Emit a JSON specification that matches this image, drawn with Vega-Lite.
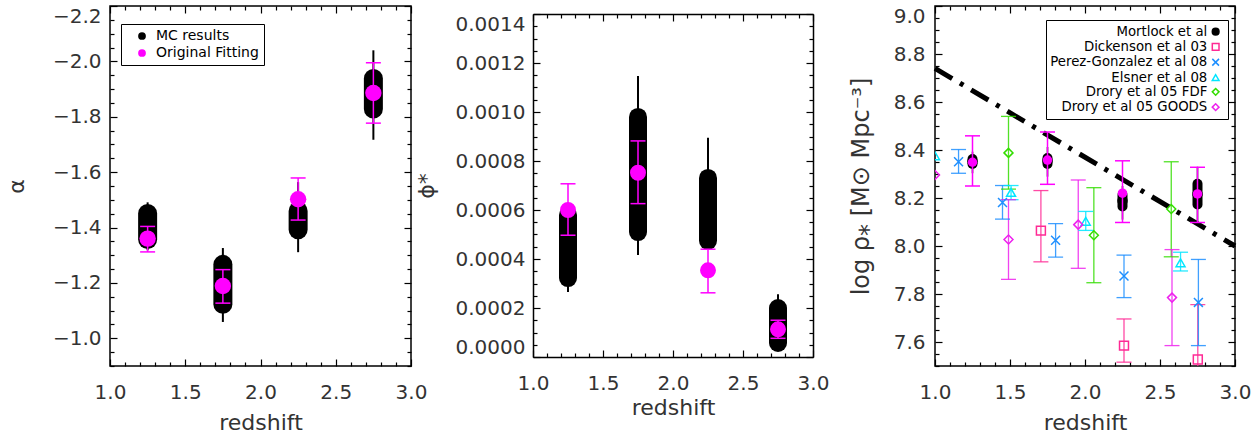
{
  "$schema": "https://vega.github.io/schema/vega-lite/v6.json",
  "background": "white",
  "padding": {"left": 4, "top": 4, "right": 0, "bottom": 0},
  "bounds": "flush",
  "spacing": 122,
  "resolve": {
    "scale": {"color": "independent"},
    "legend": {"color": "independent"}
  },
  "config": {
    "view": {"stroke": "black", "strokeWidth": 1.5},
    "axis": {"grid": false, "domain": false, "ticks": true, "tickColor": "black", "tickWidth": 1.2, "domainColor": "black", "domainWidth": 1.5, "labelFont": "DejaVu Sans", "labelFontSize": 20, "labelColor": "#333", "titleFont": "DejaVu Sans", "titleFontSize": 22, "titleFontWeight": "normal", "titleColor": "#333", "labelOverlap": false, "labelBound": false},
    "legend": {"labelFont": "DejaVu Sans", "labelColor": "black"}
  },
  "datasets": {
    "alpha": [
      {"z": 1.25, "mc": -1.404, "mc_lo": -1.451, "mc_hi": -1.357, "t_lo": -1.491, "t_hi": -1.318, "fit": -1.360, "f_lo": -1.404, "f_hi": -1.312},
      {"z": 1.75, "mc": -1.195, "mc_lo": -1.267, "mc_hi": -1.123, "t_lo": -1.326, "t_hi": -1.059, "fit": -1.189, "f_lo": -1.248, "f_hi": -1.127},
      {"z": 2.25, "mc": -1.426, "mc_lo": -1.460, "mc_hi": -1.392, "t_lo": -1.564, "t_hi": -1.311, "fit": -1.502, "f_lo": -1.579, "f_hi": -1.427},
      {"z": 2.75, "mc": -1.883, "mc_lo": -1.938, "mc_hi": -1.828, "t_lo": -2.040, "t_hi": -1.717, "fit": -1.886, "f_lo": -1.995, "f_hi": -1.777}
    ],
    "phi": [
      {"z": 1.25, "mc": 0.000451, "mc_lo": 0.000322, "mc_hi": 0.000580, "t_lo": 0.000265, "t_hi": 0.00062, "fit": 0.000600, "f_lo": 0.000497, "f_hi": 0.000707},
      {"z": 1.75, "mc": 0.000745, "mc_lo": 0.000510, "mc_hi": 0.000980, "t_lo": 0.000416, "t_hi": 0.001147, "fit": 0.000752, "f_lo": 0.000626, "f_hi": 0.000882},
      {"z": 2.25, "mc": 0.000602, "mc_lo": 0.000474, "mc_hi": 0.000731, "t_lo": 0.00046, "t_hi": 0.000895, "fit": 0.000354, "f_lo": 0.000262, "f_hi": 0.000440},
      {"z": 2.75, "mc": 0.000128, "mc_lo": 0.0000571, "mc_hi": 0.000200, "t_lo": 0.00005, "t_hi": 0.000256, "fit": 0.000113, "f_lo": 0.0000763, "f_hi": 0.000150}
    ],
    "line": [{"z": 1.0, "rho": 8.74}, {"z": 3.0, "rho": 8.0}],
    "mort": [
      {"z": 1.25, "pc": 8.352, "p_lo": 8.342, "p_hi": 8.362, "tlo": 8.303, "thi": 8.393, "f": 8.349, "flo": 8.250, "fhi": 8.459},
      {"z": 1.75, "pc": 8.355, "p_lo": 8.342, "p_hi": 8.367, "tlo": 8.289, "thi": 8.413, "f": 8.358, "flo": 8.257, "fhi": 8.475},
      {"z": 2.25, "pc": 8.189, "p_lo": 8.165, "p_hi": 8.213, "tlo": 8.110, "thi": 8.25, "f": 8.220, "flo": 8.098, "fhi": 8.355},
      {"z": 2.75, "pc": 8.216, "p_lo": 8.173, "p_hi": 8.259, "tlo": 8.10, "thi": 8.33, "f": 8.217, "flo": 8.098, "fhi": 8.328}
    ],
    "lit": [
      {"survey": "Mortlock et al", "z": 1.25, "v": 8.352, "lo": null, "hi": null},
      {"survey": "Mortlock et al", "z": 1.75, "v": 8.355, "lo": null, "hi": null},
      {"survey": "Mortlock et al", "z": 2.25, "v": 8.189, "lo": null, "hi": null},
      {"survey": "Mortlock et al", "z": 2.75, "v": 8.216, "lo": null, "hi": null},
      {"survey": "Dickenson et al 03", "z": 1.706, "v": 8.064, "lo": 7.934, "hi": 8.231},
      {"survey": "Dickenson et al 03", "z": 2.26, "v": 7.585, "lo": 7.516, "hi": 7.696},
      {"survey": "Dickenson et al 03", "z": 2.752, "v": 7.527, "lo": 7.3, "hi": 7.756},
      {"survey": "Perez-Gonzalez et al 08", "z": 1.157, "v": 8.351, "lo": 8.303, "hi": 8.402},
      {"survey": "Perez-Gonzalez et al 08", "z": 1.45, "v": 8.181, "lo": 8.112, "hi": 8.252},
      {"survey": "Perez-Gonzalez et al 08", "z": 1.804, "v": 8.024, "lo": 7.954, "hi": 8.093},
      {"survey": "Perez-Gonzalez et al 08", "z": 2.26, "v": 7.875, "lo": 7.785, "hi": 7.962},
      {"survey": "Perez-Gonzalez et al 08", "z": 2.756, "v": 7.765, "lo": 7.585, "hi": 7.944},
      {"survey": "Elsner et al 08", "z": 1.0, "v": 8.376, "lo": null, "hi": null},
      {"survey": "Elsner et al 08", "z": 1.507, "v": 8.223, "lo": 8.193, "hi": 8.252},
      {"survey": "Elsner et al 08", "z": 2.005, "v": 8.103, "lo": 8.065, "hi": 8.144},
      {"survey": "Elsner et al 08", "z": 2.637, "v": 7.930, "lo": 7.896, "hi": 7.974},
      {"survey": "Drory et al 05 FDF", "z": 1.49, "v": 8.388, "lo": 8.237, "hi": 8.540},
      {"survey": "Drory et al 05 FDF", "z": 2.059, "v": 8.045, "lo": 7.847, "hi": 8.243},
      {"survey": "Drory et al 05 FDF", "z": 2.575, "v": 8.154, "lo": 7.955, "hi": 8.351},
      {"survey": "Drory et al 05 GOODS", "z": 1.0, "v": 8.296, "lo": null, "hi": null},
      {"survey": "Drory et al 05 GOODS", "z": 1.49, "v": 8.027, "lo": 7.861, "hi": 8.193},
      {"survey": "Drory et al 05 GOODS", "z": 1.955, "v": 8.089, "lo": 7.907, "hi": 8.275},
      {"survey": "Drory et al 05 GOODS", "z": 2.58, "v": 7.785, "lo": 7.585, "hi": 7.985}
    ]
  },
  "hconcat": [
    {
      "width": 301, "height": 360,
      "data": {"name": "alpha"},
      "layer": [
        {"mark": {"type": "rule", "color": "black", "strokeWidth": 2},
         "encoding": {
           "x": {"field": "z", "type": "quantitative", "scale": {"domain": [1, 3], "nice": false, "zero": false},
                 "axis": {"orient": "bottom", "title": "redshift", "values": [1,1.1,1.2,1.3,1.4,1.5,1.6,1.7,1.8,1.9,2,2.1,2.2,2.3,2.4,2.5,2.6,2.7,2.8,2.9,3],
                          "tickSize": {"condition": {"test": "abs(datum.value*2-round(datum.value*2))<0.001", "value": -7}, "value": -4},
                          "labelExpr": "abs(datum.value*2-round(datum.value*2))<0.001 ? format(datum.value,'.1f') : ''",
                          "labelFlush": false, "labelPadding": 23, "titlePadding": 7}},
           "y": {"field": "t_lo", "type": "quantitative", "scale": {"domain": [-2.2, -0.9], "reverse": true, "nice": false, "zero": false},
                 "axis": {"orient": "left", "title": "α", "values": [-2.2,-2.15,-2.1,-2.05,-2,-1.95,-1.9,-1.85,-1.8,-1.75,-1.7,-1.65,-1.6,-1.55,-1.5,-1.45,-1.4,-1.35,-1.3,-1.25,-1.2,-1.15,-1.1,-1.05,-1,-0.95,-0.9],
                          "tickSize": {"condition": {"test": "abs(datum.value*5-round(datum.value*5))<0.001", "value": -7}, "value": -4},
                          "labelExpr": "abs(datum.value*5-round(datum.value*5))<0.001 ? format(datum.value,'.1f') : ''",
                          "labelFlush": true, "labelPadding": 16, "titlePadding": 24}},
           "y2": {"field": "t_hi"}}},
        {"mark": {"type": "rule", "color": "black", "strokeWidth": 19, "strokeCap": "round"},
         "encoding": {
           "x": {"field": "z", "type": "quantitative", "scale": {"domain": [1, 3], "nice": false, "zero": false},
                 "axis": {"orient": "top", "title": null, "labels": false, "values": [1,1.1,1.2,1.3,1.4,1.5,1.6,1.7,1.8,1.9,2,2.1,2.2,2.3,2.4,2.5,2.6,2.7,2.8,2.9,3],
                          "tickSize": {"condition": {"test": "abs(datum.value*2-round(datum.value*2))<0.001", "value": -7}, "value": -4}}},
           "y": {"field": "mc_lo", "type": "quantitative", "scale": {"domain": [-2.2, -0.9], "reverse": true, "nice": false, "zero": false},
                 "axis": {"orient": "right", "title": null, "labels": false, "values": [-2.2,-2.15,-2.1,-2.05,-2,-1.95,-1.9,-1.85,-1.8,-1.75,-1.7,-1.65,-1.6,-1.55,-1.5,-1.45,-1.4,-1.35,-1.3,-1.25,-1.2,-1.15,-1.1,-1.05,-1,-0.95,-0.9],
                          "tickSize": {"condition": {"test": "abs(datum.value*5-round(datum.value*5))<0.001", "value": -7}, "value": -4}}},
           "y2": {"field": "mc_hi"}}},
        {"mark": {"type": "point", "filled": true, "opacity": 1, "size": 250, "shape": "circle"},
         "encoding": {
           "x": {"field": "z", "type": "quantitative", "scale": {"domain": [1, 3], "nice": false, "zero": false}, "axis": null},
           "y": {"field": "mc", "type": "quantitative", "scale": {"domain": [-2.2, -0.9], "reverse": true, "nice": false, "zero": false}, "axis": null},
           "color": {"datum": "MC results", "scale": {"domain": ["MC results", "Original Fitting"], "range": ["black", "#ff00ff"]},
                     "legend": {"orient": "none", "legendX": 11, "legendY": 18, "title": null, "strokeColor": "black", "fillColor": "white", "padding": 5, "symbolOffset": 9, "labelOffset": 7, "rowPadding": 3, "labelFontSize": 14, "symbolSize": 60, "symbolType": "circle"}}}},
        {"mark": {"type": "rule", "color": "#ff00ff", "strokeWidth": 1.5},
         "encoding": {
           "x": {"field": "z", "type": "quantitative", "scale": {"domain": [1, 3], "nice": false, "zero": false}, "axis": null},
           "y": {"field": "f_lo", "type": "quantitative", "scale": {"domain": [-2.2, -0.9], "reverse": true, "nice": false, "zero": false}, "axis": null},
           "y2": {"field": "f_hi"}}},
        {"mark": {"type": "tick", "orient": "horizontal", "color": "#ff00ff", "size": 15, "thickness": 1.5, "opacity": 1},
         "encoding": {
           "x": {"field": "z", "type": "quantitative", "scale": {"domain": [1, 3], "nice": false, "zero": false}, "axis": null},
           "y": {"field": "f_lo", "type": "quantitative", "scale": {"domain": [-2.2, -0.9], "reverse": true, "nice": false, "zero": false}, "axis": null}}},
        {"mark": {"type": "tick", "orient": "horizontal", "color": "#ff00ff", "size": 15, "thickness": 1.5, "opacity": 1},
         "encoding": {
           "x": {"field": "z", "type": "quantitative", "scale": {"domain": [1, 3], "nice": false, "zero": false}, "axis": null},
           "y": {"field": "f_hi", "type": "quantitative", "scale": {"domain": [-2.2, -0.9], "reverse": true, "nice": false, "zero": false}, "axis": null}}},
        {"mark": {"type": "point", "filled": true, "opacity": 1, "size": 270, "shape": "circle"},
         "encoding": {
           "x": {"field": "z", "type": "quantitative", "scale": {"domain": [1, 3], "nice": false, "zero": false}, "axis": null},
           "y": {"field": "fit", "type": "quantitative", "scale": {"domain": [-2.2, -0.9], "reverse": true, "nice": false, "zero": false}, "axis": null},
           "color": {"datum": "Original Fitting"}}}
      ],
      "resolve": {"axis": {"x": "independent", "y": "independent"}}
    },
    {
      "width": 280, "height": 351,
      "view": {"stroke": null},
      "data": {"name": "phi"},
      "layer": [
        {"mark": {"type": "rule", "color": "black", "strokeWidth": 2},
         "encoding": {
           "x": {"field": "z", "type": "quantitative", "scale": {"domain": [1, 3], "nice": false, "zero": false},
                 "axis": {"orient": "bottom", "title": "redshift", "domain": true, "values": [1,1.1,1.2,1.3,1.4,1.5,1.6,1.7,1.8,1.9,2,2.1,2.2,2.3,2.4,2.5,2.6,2.7,2.8,2.9,3],
                          "tickSize": {"condition": {"test": "abs(datum.value*2-round(datum.value*2))<0.001", "value": -7}, "value": -4},
                          "labelExpr": "abs(datum.value*2-round(datum.value*2))<0.001 ? format(datum.value,'.1f') : ''",
                          "labelFlush": false, "labelPadding": 23, "titlePadding": 1}},
           "y": {"field": "t_lo", "type": "quantitative", "scale": {"domain": [0, 0.0014], "range": [351, 8], "nice": false, "zero": false},
                 "axis": {"orient": "left", "title": "ϕ*", "domain": true, "values": [0,0.00005,0.0001,0.00015,0.0002,0.00025,0.0003,0.00035,0.0004,0.00045,0.0005,0.00055,0.0006,0.00065,0.0007,0.00075,0.0008,0.00085,0.0009,0.00095,0.001,0.00105,0.0011,0.00115,0.0012,0.00125,0.0013,0.00135,0.0014],
                          "tickSize": {"condition": {"test": "abs(datum.value*5000-round(datum.value*5000))<0.001", "value": -7}, "value": -4},
                          "labelExpr": "abs(datum.value*5000-round(datum.value*5000))<0.001 ? format(datum.value,'.4f') : ''",
                          "labelFlush": true, "labelPadding": 15, "titlePadding": 17}},
           "y2": {"field": "t_hi"}}},
        {"mark": {"type": "rule", "color": "black", "strokeWidth": 18, "strokeCap": "round"},
         "encoding": {
           "x": {"field": "z", "type": "quantitative", "scale": {"domain": [1, 3], "nice": false, "zero": false},
                 "axis": {"orient": "top", "offset": -8, "domain": true, "title": null, "labels": false, "values": [1,1.1,1.2,1.3,1.4,1.5,1.6,1.7,1.8,1.9,2,2.1,2.2,2.3,2.4,2.5,2.6,2.7,2.8,2.9,3],
                          "tickSize": {"condition": {"test": "abs(datum.value*2-round(datum.value*2))<0.001", "value": -7}, "value": -4}}},
           "y": {"field": "mc_lo", "type": "quantitative", "scale": {"domain": [0, 0.0014], "range": [351, 8], "nice": false, "zero": false},
                 "axis": {"orient": "right", "domain": true, "title": null, "labels": false, "values": [0,0.00005,0.0001,0.00015,0.0002,0.00025,0.0003,0.00035,0.0004,0.00045,0.0005,0.00055,0.0006,0.00065,0.0007,0.00075,0.0008,0.00085,0.0009,0.00095,0.001,0.00105,0.0011,0.00115,0.0012,0.00125,0.0013,0.00135,0.0014],
                          "tickSize": {"condition": {"test": "abs(datum.value*5000-round(datum.value*5000))<0.001", "value": -7}, "value": -4}}},
           "y2": {"field": "mc_hi"}}},
        {"mark": {"type": "rule", "color": "#ff00ff", "strokeWidth": 1.5},
         "encoding": {
           "x": {"field": "z", "type": "quantitative", "scale": {"domain": [1, 3], "nice": false, "zero": false}, "axis": null},
           "y": {"field": "f_lo", "type": "quantitative", "scale": {"domain": [0, 0.0014], "range": [351, 8], "nice": false, "zero": false}, "axis": null},
           "y2": {"field": "f_hi"}}},
        {"mark": {"type": "tick", "orient": "horizontal", "color": "#ff00ff", "size": 15, "thickness": 1.5, "opacity": 1},
         "encoding": {
           "x": {"field": "z", "type": "quantitative", "scale": {"domain": [1, 3], "nice": false, "zero": false}, "axis": null},
           "y": {"field": "f_lo", "type": "quantitative", "scale": {"domain": [0, 0.0014], "range": [351, 8], "nice": false, "zero": false}, "axis": null}}},
        {"mark": {"type": "tick", "orient": "horizontal", "color": "#ff00ff", "size": 15, "thickness": 1.5, "opacity": 1},
         "encoding": {
           "x": {"field": "z", "type": "quantitative", "scale": {"domain": [1, 3], "nice": false, "zero": false}, "axis": null},
           "y": {"field": "f_hi", "type": "quantitative", "scale": {"domain": [0, 0.0014], "range": [351, 8], "nice": false, "zero": false}, "axis": null}}},
        {"mark": {"type": "point", "filled": true, "opacity": 1, "size": 254, "shape": "circle", "color": "#ff00ff"},
         "encoding": {
           "x": {"field": "z", "type": "quantitative", "scale": {"domain": [1, 3], "nice": false, "zero": false}, "axis": null},
           "y": {"field": "fit", "type": "quantitative", "scale": {"domain": [0, 0.0014], "range": [351, 8], "nice": false, "zero": false}, "axis": null}}}
      ],
      "resolve": {"axis": {"x": "independent", "y": "independent"}}
    },
    {
      "width": 300, "height": 360,
      "layer": [
        {"data": {"name": "line"},
         "mark": {"type": "line", "color": "black", "strokeWidth": 5, "strokeDash": [20, 9, 4, 9]},
         "encoding": {
           "x": {"field": "z", "type": "quantitative", "scale": {"domain": [1, 3], "nice": false, "zero": false},
                 "axis": {"orient": "bottom", "title": "redshift", "values": [1,1.1,1.2,1.3,1.4,1.5,1.6,1.7,1.8,1.9,2,2.1,2.2,2.3,2.4,2.5,2.6,2.7,2.8,2.9,3],
                          "tickSize": {"condition": {"test": "abs(datum.value*2-round(datum.value*2))<0.001", "value": -7}, "value": -4},
                          "labelExpr": "abs(datum.value*2-round(datum.value*2))<0.001 ? format(datum.value,'.1f') : ''",
                          "labelFlush": false, "labelPadding": 23, "titlePadding": 7}},
           "y": {"field": "rho", "type": "quantitative", "scale": {"domain": [7.5, 9], "nice": false, "zero": false},
                 "axis": {"orient": "left", "title": "log ρ⁎ [M⊙ Mpc⁻³]", "titleFontSize": 24, "values": [7.5,7.55,7.6,7.65,7.7,7.75,7.8,7.85,7.9,7.95,8,8.05,8.1,8.15,8.2,8.25,8.3,8.35,8.4,8.45,8.5,8.55,8.6,8.65,8.7,8.75,8.8,8.85,8.9,8.95,9],
                          "tickSize": {"condition": {"test": "abs(datum.value*5-round(datum.value*5))<0.001", "value": -7}, "value": -4},
                          "labelExpr": "abs(datum.value*5-round(datum.value*5))<0.001 ? format(datum.value,'.1f') : ''",
                          "labelFlush": true, "labelPadding": 17, "titlePadding": 20}}}},
        {"data": {"name": "lit"},
         "transform": [{"filter": "datum.lo != null"}],
         "mark": {"type": "rule", "strokeWidth": 1.3, "clip": true, "opacity": 0.85},
         "encoding": {
           "x": {"field": "z", "type": "quantitative", "scale": {"domain": [1, 3], "nice": false, "zero": false},
                 "axis": {"orient": "top", "title": null, "labels": false, "values": [1,1.1,1.2,1.3,1.4,1.5,1.6,1.7,1.8,1.9,2,2.1,2.2,2.3,2.4,2.5,2.6,2.7,2.8,2.9,3],
                          "tickSize": {"condition": {"test": "abs(datum.value*2-round(datum.value*2))<0.001", "value": -7}, "value": -4}}},
           "y": {"field": "lo", "type": "quantitative", "scale": {"domain": [7.5, 9], "nice": false, "zero": false},
                 "axis": {"orient": "right", "title": null, "labels": false, "values": [7.5,7.55,7.6,7.65,7.7,7.75,7.8,7.85,7.9,7.95,8,8.05,8.1,8.15,8.2,8.25,8.3,8.35,8.4,8.45,8.5,8.55,8.6,8.65,8.7,8.75,8.8,8.85,8.9,8.95,9],
                          "tickSize": {"condition": {"test": "abs(datum.value*5-round(datum.value*5))<0.001", "value": -7}, "value": -4}}},
           "y2": {"field": "hi"},
           "color": {"field": "survey", "type": "nominal", "legend": null,
                     "scale": {"domain": ["Mortlock et al", "Dickenson et al 03", "Perez-Gonzalez et al 08", "Elsner et al 08", "Drory et al 05 FDF", "Drory et al 05 GOODS"], "range": ["black", "#ff2a95", "#1e8fff", "#00e5ff", "#33dd00", "#ee22ee"]}}}},
        {"data": {"name": "lit"},
         "transform": [{"filter": "datum.lo != null"}],
         "mark": {"type": "tick", "orient": "horizontal", "size": 15, "thickness": 1.3, "opacity": 0.85, "clip": true},
         "encoding": {
           "x": {"field": "z", "type": "quantitative", "scale": {"domain": [1, 3], "nice": false, "zero": false}, "axis": null},
           "y": {"field": "lo", "type": "quantitative", "scale": {"domain": [7.5, 9], "nice": false, "zero": false}, "axis": null},
           "color": {"field": "survey", "type": "nominal", "legend": null}}},
        {"data": {"name": "lit"},
         "transform": [{"filter": "datum.hi != null"}],
         "mark": {"type": "tick", "orient": "horizontal", "size": 15, "thickness": 1.3, "opacity": 0.85, "clip": true},
         "encoding": {
           "x": {"field": "z", "type": "quantitative", "scale": {"domain": [1, 3], "nice": false, "zero": false}, "axis": null},
           "y": {"field": "hi", "type": "quantitative", "scale": {"domain": [7.5, 9], "nice": false, "zero": false}, "axis": null},
           "color": {"field": "survey", "type": "nominal", "legend": null}}},
        {"data": {"name": "mort"},
         "mark": {"type": "rule", "color": "black", "strokeWidth": 1.5},
         "encoding": {
           "x": {"field": "z", "type": "quantitative", "scale": {"domain": [1, 3], "nice": false, "zero": false}, "axis": null},
           "y": {"field": "tlo", "type": "quantitative", "scale": {"domain": [7.5, 9], "nice": false, "zero": false}, "axis": null},
           "y2": {"field": "thi"}}},
        {"data": {"name": "mort"},
         "mark": {"type": "rule", "color": "black", "strokeWidth": 10, "strokeCap": "round"},
         "encoding": {
           "x": {"field": "z", "type": "quantitative", "scale": {"domain": [1, 3], "nice": false, "zero": false}, "axis": null},
           "y": {"field": "p_lo", "type": "quantitative", "scale": {"domain": [7.5, 9], "nice": false, "zero": false}, "axis": null},
           "y2": {"field": "p_hi"}}},
        {"data": {"name": "lit"},
         "mark": {"type": "point", "size": 80, "strokeWidth": 1.5, "opacity": 1, "clip": true},
         "encoding": {
           "x": {"field": "z", "type": "quantitative", "scale": {"domain": [1, 3], "nice": false, "zero": false}, "axis": null},
           "y": {"field": "v", "type": "quantitative", "scale": {"domain": [7.5, 9], "nice": false, "zero": false}, "axis": null},
           "stroke": {"field": "survey", "type": "nominal",
                      "scale": {"domain": ["Mortlock et al", "Dickenson et al 03", "Perez-Gonzalez et al 08", "Elsner et al 08", "Drory et al 05 FDF", "Drory et al 05 GOODS"], "range": ["black", "#ff2a95", "#1e8fff", "#00e5ff", "#33dd00", "#ee22ee"]},
                      "legend": {"orient": "none", "legendX": 936, "legendY": 14, "title": null, "strokeColor": "black", "fillColor": "white", "padding": 5, "labelAlign": "right", "labelOffset": -15, "symbolOffset": 158, "rowPadding": 0.3, "labelFontSize": 13.3, "symbolSize": 45, "symbolStrokeWidth": 1.5, "labelLimit": 300}},
           "fill": {"field": "survey", "type": "nominal",
                    "scale": {"domain": ["Mortlock et al", "Dickenson et al 03", "Perez-Gonzalez et al 08", "Elsner et al 08", "Drory et al 05 FDF", "Drory et al 05 GOODS"], "range": ["black", "transparent", "transparent", "transparent", "transparent", "transparent"]},
                    "legend": {"orient": "none", "legendX": 936, "legendY": 14, "title": null, "strokeColor": "black", "fillColor": "white", "padding": 5, "labelAlign": "right", "labelOffset": -15, "symbolOffset": 158, "rowPadding": 0.3, "labelFontSize": 13.3, "symbolSize": 45, "symbolStrokeWidth": 1.5, "labelLimit": 300}},
           "shape": {"field": "survey", "type": "nominal",
                     "scale": {"domain": ["Mortlock et al", "Dickenson et al 03", "Perez-Gonzalez et al 08", "Elsner et al 08", "Drory et al 05 FDF", "Drory et al 05 GOODS"], "range": ["circle", "square", "M-1,-1L1,1M-1,1L1,-1", "triangle-up", "diamond", "diamond"]},
                     "legend": {"orient": "none", "legendX": 936, "legendY": 14, "title": null, "strokeColor": "black", "fillColor": "white", "padding": 5, "labelAlign": "right", "labelOffset": -15, "symbolOffset": 158, "rowPadding": 0.3, "labelFontSize": 13.3, "symbolSize": 45, "symbolStrokeWidth": 1.5, "labelLimit": 300}}}},
        {"data": {"name": "mort"},
         "mark": {"type": "rule", "color": "#ff00ff", "strokeWidth": 1.5},
         "encoding": {
           "x": {"field": "z", "type": "quantitative", "scale": {"domain": [1, 3], "nice": false, "zero": false}, "axis": null},
           "y": {"field": "flo", "type": "quantitative", "scale": {"domain": [7.5, 9], "nice": false, "zero": false}, "axis": null},
           "y2": {"field": "fhi"}}},
        {"data": {"name": "mort"},
         "mark": {"type": "tick", "orient": "horizontal", "color": "#ff00ff", "size": 15, "thickness": 1.5, "opacity": 1},
         "encoding": {
           "x": {"field": "z", "type": "quantitative", "scale": {"domain": [1, 3], "nice": false, "zero": false}, "axis": null},
           "y": {"field": "flo", "type": "quantitative", "scale": {"domain": [7.5, 9], "nice": false, "zero": false}, "axis": null}}},
        {"data": {"name": "mort"},
         "mark": {"type": "tick", "orient": "horizontal", "color": "#ff00ff", "size": 15, "thickness": 1.5, "opacity": 1},
         "encoding": {
           "x": {"field": "z", "type": "quantitative", "scale": {"domain": [1, 3], "nice": false, "zero": false}, "axis": null},
           "y": {"field": "fhi", "type": "quantitative", "scale": {"domain": [7.5, 9], "nice": false, "zero": false}, "axis": null}}},
        {"data": {"name": "mort"},
         "mark": {"type": "point", "filled": true, "opacity": 1, "size": 90, "shape": "circle", "color": "#ff00ff"},
         "encoding": {
           "x": {"field": "z", "type": "quantitative", "scale": {"domain": [1, 3], "nice": false, "zero": false}, "axis": null},
           "y": {"field": "f", "type": "quantitative", "scale": {"domain": [7.5, 9], "nice": false, "zero": false}, "axis": null}}}
      ],
      "resolve": {"axis": {"x": "independent", "y": "independent"}}
    }
  ]
}
